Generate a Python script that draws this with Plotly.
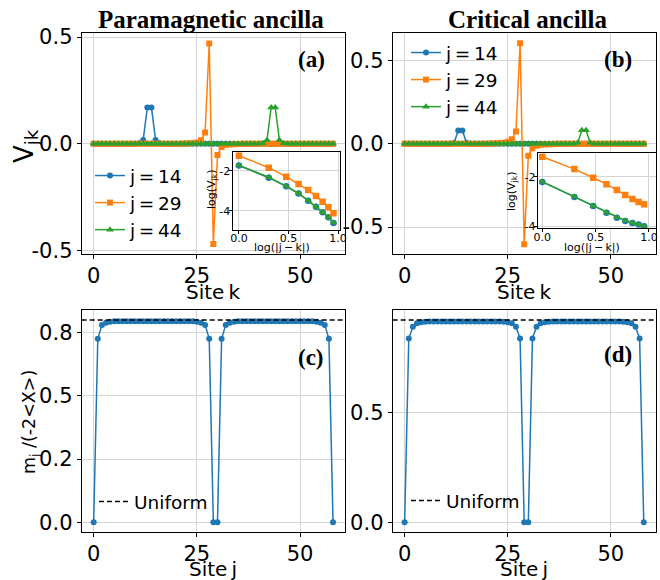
import numpy as np
import plotly.graph_objects as go

W, H = 660, 580
def fx(p): return p / W
def fy(p): return 1 - p / H

# ---------------- data ----------------
sites = list(range(59))

# Panel (a): paramagnetic ancilla, V_jk vs site k
v_a_j14 = [0, 0, 0, 0, 0, 0, 0, 0, 0, 0,
           0, 0.002, 0.018, 0.17, 0.17, 0.018, 0.002, 0, 0, 0,
           0, 0, 0, 0, 0, 0, 0, 0, 0, 0,
           0, 0, 0, 0, 0, 0, 0, 0, 0, 0,
           0, 0, 0, 0, 0, 0, 0, 0, 0, 0,
           0, 0, 0, 0, 0, 0, 0, 0, 0]
v_a_j29 = [0, 0, 0, 0, 0, 0, 0, 0, 0, 0,
           0, 0, 0, 0, 0, 0, 0, 0, 0, 0,
           0, 0, 0.001, 0.002, 0.003, 0.006, 0.017, 0.053, 0.47, -0.47,
           -0.053, -0.015, -0.006, -0.003, -0.002, -0.001, 0, 0, 0, 0,
           0, 0, 0, 0, 0, 0, 0, 0, 0, 0,
           0, 0, 0, 0, 0, 0, 0, 0, 0]
v_a_j44 = [0, 0, 0, 0, 0, 0, 0, 0, 0, 0,
           0, 0, 0, 0, 0, 0, 0, 0, 0, 0,
           0, 0, 0, 0, 0, 0, 0, 0, 0, 0,
           0, 0, 0, 0, 0, 0, 0, 0, 0, 0,
           0, 0.002, 0.018, 0.17, 0.17, 0.018, 0.002, 0, 0, 0,
           0, 0, 0, 0, 0, 0, 0, 0, 0]

# Panel (b): critical ancilla
v_b_j14 = [0, 0, 0, 0, 0, 0, 0, 0, 0, 0,
           0, 0.001, 0.006, 0.08, 0.08, 0.006, 0.001, 0, 0, 0,
           0, 0, 0, 0, 0, 0, 0, 0, 0, 0,
           0, 0, 0, 0, 0, 0, 0, 0, 0, 0,
           0, 0, 0, 0, 0, 0, 0, 0, 0, 0,
           0, 0, 0, 0, 0, 0, 0, 0, 0]
v_b_j29 = [0, 0, 0, 0, 0, 0, 0, 0, 0, 0,
           0, 0, 0, 0, 0, 0, 0, 0, 0, 0,
           0, 0.002, 0.003, 0.004, 0.006, 0.012, 0.027, 0.074, 0.604, -0.604,
           -0.072, -0.026, -0.012, -0.006, -0.004, -0.003, -0.002, 0, 0, 0,
           0, 0, 0, 0, 0, 0, 0, 0, 0, 0,
           0, 0, 0, 0, 0, 0, 0, 0, 0]
v_b_j44 = [0, 0, 0, 0, 0, 0, 0, 0, 0, 0,
           0, 0, 0, 0, 0, 0, 0, 0, 0, 0,
           0, 0, 0, 0, 0, 0, 0, 0, 0, 0,
           0, 0, 0, 0, 0, 0, 0, 0, 0, 0,
           0, 0.001, 0.006, 0.082, 0.082, 0.006, 0.001, 0, 0, 0,
           0, 0, 0, 0, 0, 0, 0, 0, 0]

# Insets: log(V_jk) vs log(|j-k|)
dist = [1, 2, 3, 4, 5, 6, 7, 8, 9]
ins_a_j14 = [-1.74, -2.35, -2.78, -3.14, -3.50, -3.80, -4.08, -4.33, -4.62]
ins_a_j29 = [-1.25, -1.85, -2.30, -2.67, -2.97, -3.27, -3.55, -3.83, -4.13]
ins_a_j44 = [-1.73, -2.33, -2.77, -3.13, -3.50, -3.80, -4.08, -4.33, -4.60]
ins_b_j14 = [-2.21, -2.82, -3.19, -3.46, -3.66, -3.79, -3.88, -3.94, -4.01]
ins_b_j29 = [-1.19, -1.69, -2.04, -2.30, -2.54, -2.74, -2.90, -3.02, -3.12]
ins_b_j44 = [-2.20, -2.81, -3.18, -3.45, -3.65, -3.78, -3.87, -3.93, -4.00]

# Panels (c), (d): m_j / (-2<X>) vs site j
m_c = [0.0, 0.726, 0.781, 0.790, 0.793, 0.795, 0.795, 0.795, 0.795, 0.795,
       0.795, 0.795, 0.795, 0.795, 0.795, 0.795, 0.795, 0.795, 0.795, 0.795,
       0.795, 0.795, 0.795, 0.795, 0.795, 0.793, 0.790, 0.781, 0.726, 0.0,
       0.0, 0.726, 0.781, 0.790, 0.793, 0.795, 0.795, 0.795, 0.795, 0.795,
       0.795, 0.795, 0.795, 0.795, 0.795, 0.795, 0.795, 0.795, 0.795, 0.795,
       0.795, 0.795, 0.795, 0.795, 0.793, 0.790, 0.781, 0.726, 0.0]
m_d = [0.0, 0.841, 0.894, 0.910, 0.915, 0.917, 0.918, 0.918, 0.918, 0.918,
       0.918, 0.918, 0.918, 0.918, 0.918, 0.918, 0.918, 0.918, 0.918, 0.918,
       0.918, 0.918, 0.918, 0.918, 0.917, 0.915, 0.910, 0.894, 0.841, 0.0,
       0.0, 0.841, 0.894, 0.910, 0.915, 0.917, 0.918, 0.918, 0.918, 0.918,
       0.918, 0.918, 0.918, 0.918, 0.918, 0.918, 0.918, 0.918, 0.918, 0.918,
       0.918, 0.918, 0.918, 0.917, 0.915, 0.910, 0.894, 0.841, 0.0]
uniform_c = 0.800
uniform_d = 0.925

series_names = ["j\u2009=\u200914", "j\u2009=\u200929", "j\u2009=\u200944"]
colors = ["#1f77b4", "#ff7f0e", "#2ca02c"]
symbols = ["circle", "square", "triangle-up"]
msizes = [6, 6, 7]

main_tickvals = [0, 25, 50]

# ---------------- figure ----------------
fig = go.Figure()

def add_series(x, y, xa, ya, i, showlegend=False, legend="legend", size=None, width=1.5):
    fig.add_trace(go.Scatter(
        x=x, y=y, xaxis=xa, yaxis=ya, mode="lines+markers",
        line=dict(color=colors[i], width=width),
        marker=dict(color=colors[i], symbol=symbols[i], size=size or msizes[i]),
        name=series_names[i], showlegend=showlegend, legend=legend,
    ))

for i, v in enumerate([v_a_j14, v_a_j29, v_a_j44]):
    add_series(sites, v, "x", "y", i, showlegend=True, legend="legend")
for i, v in enumerate([v_b_j14, v_b_j29, v_b_j44]):
    add_series(sites, v, "x2", "y2", i, showlegend=True, legend="legend2")

logd = np.log10(dist)
for i, v in enumerate([ins_a_j14, ins_a_j29, ins_a_j44]):
    add_series(logd, v, "x5", "y5", i, size=6.5)
for i, v in enumerate([ins_b_j14, ins_b_j29, ins_b_j44]):
    add_series(logd, v, "x6", "y6", i, size=6.5)

for m, xa, ya in [(m_c, "x3", "y3"), (m_d, "x4", "y4")]:
    fig.add_trace(go.Scatter(
        x=sites, y=m, xaxis=xa, yaxis=ya, mode="lines+markers",
        line=dict(color="#1f77b4", width=1.5),
        marker=dict(color="#1f77b4", size=6), showlegend=False,
    ))

for uval, xa, ya, leg in [(uniform_c, "x3", "y3", "legend3"), (uniform_d, "x4", "y4", "legend4")]:
    fig.add_shape(type="line", xref=xa + " domain", yref=ya, x0=0, x1=1, y0=uval, y1=uval,
                  line=dict(color="black", width=1.5, dash="5px,3px"),
                  showlegend=True, legend=leg, name="Uniform", layer="above")

grid = "#d4d4d4"
def ax(**kw):
    d = dict(showline=True, mirror=True, linecolor="black", linewidth=1,
             ticks="outside", ticklen=4, tickcolor="black", tickwidth=1,
             showgrid=True, gridcolor=grid, gridwidth=1, zeroline=False,
             tickfont=dict(size=21, family="DejaVu Sans", color="black"))
    d.update(kw)
    return d

xa_dom = [fx(81.7), fx(345)]
xb_dom = [fx(392.7), fx(655.7)]
top_dom = [fy(254.3), fy(33.3)]
bot_dom = [fy(532.3), fy(310)]
xrange_main = [-2.9, 60.9]
small = dict(size=11, family="DejaVu Sans", color="black")
inset_x = dict(ticklen=3, tickfont=small, ticklabelstandoff=-5)
inset_y = dict(ticklen=3, tickfont=small, ticklabelstandoff=-4)
main_x = dict(range=xrange_main, tickvals=main_tickvals, ticklabelstandoff=-2)

fig.update_layout(
    width=W, height=H, margin=dict(l=0, r=0, t=0, b=0, autoexpand=False),
    paper_bgcolor="white", plot_bgcolor="white",
    font=dict(family="DejaVu Sans", color="black"),
    xaxis=ax(domain=xa_dom, anchor="y", **main_x),
    yaxis=ax(domain=top_dom, range=[-0.518, 0.518], tickvals=[-0.5, 0, 0.5],
             ticktext=["-0.5", "0.0", "0.5"], anchor="x"),
    xaxis2=ax(domain=xb_dom, anchor="y2", **main_x),
    yaxis2=ax(domain=top_dom, range=[-0.664, 0.664], tickvals=[-0.5, 0, 0.5],
              ticktext=["-0.5", "0.0", "0.5"], anchor="x2"),
    xaxis3=ax(domain=xa_dom, anchor="y3", **main_x),
    yaxis3=ax(domain=bot_dom, range=[-0.04, 0.84], tickvals=[0, 0.25, 0.5, 0.75],
              ticktext=["0.0", "0.2", "0.5", "0.8"], anchor="x3"),
    xaxis4=ax(domain=xb_dom, anchor="y4", **main_x),
    yaxis4=ax(domain=bot_dom, range=[-0.046, 0.971], tickvals=[0, 0.5],
              ticktext=["0.0", "0.5"], anchor="x4"),
    xaxis5=ax(domain=[fx(232.5), fx(340)], range=[-0.065, 1.02], tickvals=[0, 0.5, 1.0],
              ticktext=["0.0", "0.5", "1.0"], anchor="y5", **inset_x),
    yaxis5=ax(domain=[fy(230), fy(152)], range=[-4.965, -1.065], tickvals=[-2, -4],
              ticktext=["-2", "-4"], anchor="x5", **inset_y),
    xaxis6=ax(domain=[fx(537.7), fx(656)], range=[-0.043, 1.066], tickvals=[0, 0.5, 1.0],
              ticktext=["0.0", "0.5", "1.0"], anchor="y6", **inset_x),
    yaxis6=ax(domain=[fy(228.3), fy(153.3)], range=[-4.09, -1.05], tickvals=[-2, -4],
              ticktext=["-2", "-4"], anchor="x6", **inset_y),
)

leg_common = dict(bgcolor="rgba(0,0,0,0)", borderwidth=0, xanchor="left", yanchor="top",
                  font=dict(size=18.5, family="DejaVu Sans", color="black"),
                  tracegroupgap=0, itemwidth=30)
fig.update_layout(
    legend=dict(x=fx(90), y=fy(157), **leg_common),
    legend2=dict(x=fx(406), y=fy(34), **leg_common),
    legend3=dict(x=fx(94), y=fy(483), **leg_common),
    legend4=dict(x=fx(406), y=fy(482), **leg_common),
)

def ann(text, x, y, size, family="DejaVu Sans", angle=0):
    fig.add_annotation(text=text, x=fx(x), y=fy(y), xref="paper", yref="paper",
                       showarrow=False, textangle=angle, xanchor="center", yanchor="middle",
                       font=dict(size=size, family=family, color="black"))

serif = "Liberation Serif"
ann("<b>Paramagnetic ancilla</b>", 211, 20, 25, serif)
ann("<b>Critical ancilla</b>", 527, 20, 25, serif)
ann("<b>(a)</b>", 311, 60, 23, serif)
ann("<b>(b)</b>", 618, 60, 23, serif)
ann("<b>(c)</b>", 311, 357, 23, serif)
ann("<b>(d)</b>", 618, 354, 23, serif)

ann("V<sub>jk</sub>", 26, 146, 26, angle=-90)
ann("m<sub>j</sub> /(-2&lt;X&gt;)", 30, 422, 17.5, angle=-90)
ann("Site\u2009k", 213, 292, 20)
ann("Site\u2009k", 524, 292, 20)
ann("Site\u2009j", 213, 569, 20)
ann("Site\u2009j", 524, 569, 20)

ann("log(|j\u2009\u2212\u2009k|)", 282, 247, 11)
ann("log(|j\u2009\u2212\u2009k|)", 592, 248, 11)
ann("log(V<sub>jk</sub>)", 212, 190, 11, angle=-90)
ann("log(V<sub>jk</sub>)", 512, 192, 11, angle=-90)

fig.write_html("out.html")
